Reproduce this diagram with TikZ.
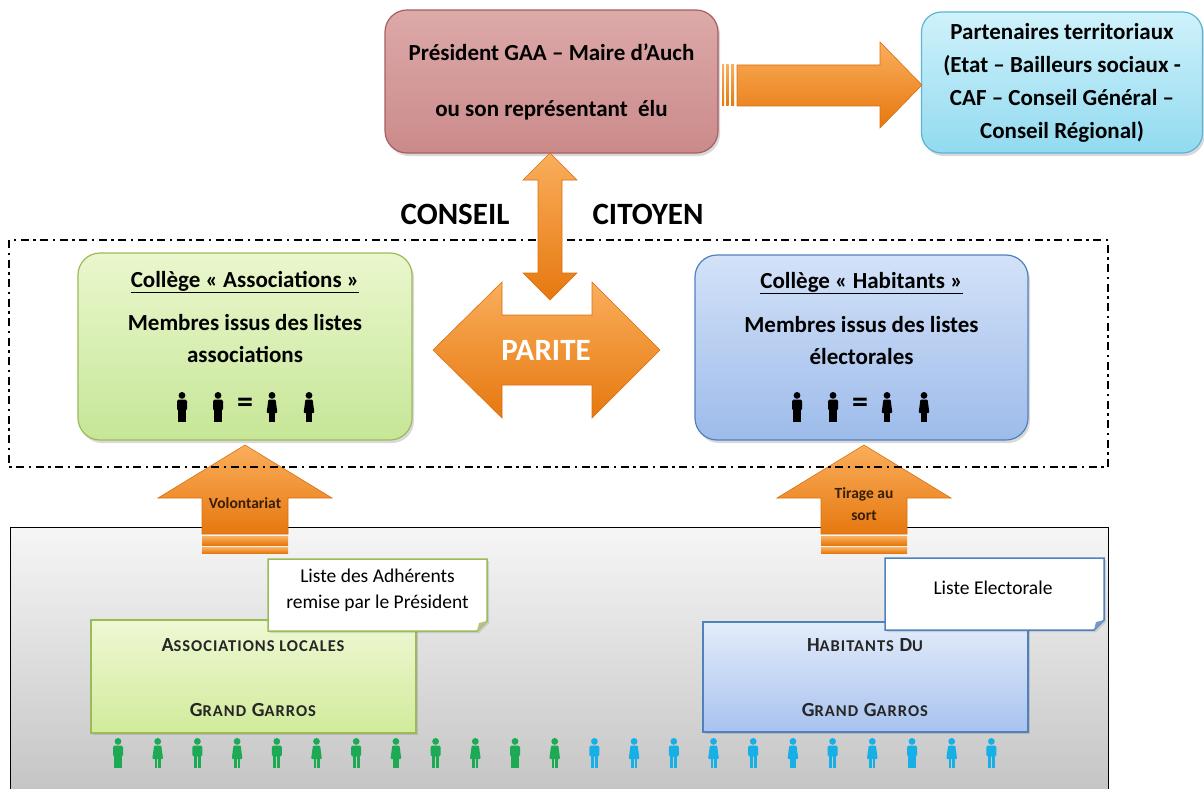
\documentclass[tikz,border=0pt]{standalone}
\usepackage{fontspec}
\setmainfont{Carlito}
\usetikzlibrary{shadows}

\definecolor{rosehaut}{HTML}{DDA9A9}
\definecolor{rosebas}{HTML}{CB8A8A}
\definecolor{rosebord}{HTML}{A85F5F}
\definecolor{cyanhaut}{HTML}{CFF2FB}
\definecolor{cyanbas}{HTML}{92DAF0}
\definecolor{cyanbord}{HTML}{5BB5D5}
\definecolor{vertclairhaut}{HTML}{EAF7CD}
\definecolor{vertclairbas}{HTML}{C6E697}
\definecolor{vertbord}{HTML}{9BBB59}
\definecolor{bleuclairhaut}{HTML}{D3E2F8}
\definecolor{bleuclairbas}{HTML}{9DBBEA}
\definecolor{bleubord}{HTML}{4F81BD}
\definecolor{vertboitehaut}{HTML}{EFF8D4}
\definecolor{vertboitebas}{HTML}{D1EB9B}
\definecolor{bleuboitehaut}{HTML}{E3ECFA}
\definecolor{bleuboitebas}{HTML}{A8C3EF}
\definecolor{grishaut}{HTML}{F6F6F6}
\definecolor{grisbas}{HTML}{C3C3C3}
\definecolor{orangehaut}{HTML}{FAAE5C}
\definecolor{orangebas}{HTML}{E6780F}
\definecolor{orangebord}{HTML}{D9700F}
\definecolor{brunfonce}{HTML}{3A1E08}
\definecolor{vertpeuple}{HTML}{1DAA55}
\definecolor{bleupeuple}{HTML}{17B0E6}

\newcommand{\pcap}[1]{{\fontsize{16.5}{16.5}\selectfont #1}}

\tikzset{
  boite/.style={rounded corners=22pt, inner sep=0pt, line width=1.2pt,
    drop shadow={opacity=0.3, shadow xshift=2pt, shadow yshift=-3pt}},
  cadre/.style={inner sep=0pt, line width=1.5pt,
    drop shadow={opacity=0.3, shadow xshift=2pt, shadow yshift=-2pt}},
  fleche/.style={draw=orangebord, line width=0.6pt, top color=orangehaut, bottom color=orangebas},
  petitcap/.style={font=\fontsize{20}{20}\selectfont\bfseries\addfontfeature{LetterSpace=6}, text=black!85},
  homme/.pic={
    \fill (0,3.4) circle (3.4);
    \fill[rounded corners=1.5pt] (-5,7.5) rectangle (5,18.5);
    \fill (-3.6,17) rectangle (-0.4,30);
    \fill (0.4,17) rectangle (3.6,30);
  },
  femme/.pic={
    \fill (0,3.4) circle (3.4);
    \fill[rounded corners=1pt] (-3.6,7.5) -- (3.6,7.5) -- (5.4,21) -- (-5.4,21) -- cycle;
    \fill (-3,20) rectangle (-0.4,30);
    \fill (0.4,20) rectangle (3,30);
  }
}

\begin{document}
\begin{tikzpicture}[x=1pt, y=-1pt, font=\fontsize{23}{28}\selectfont\bfseries]
	\useasboundingbox (0,0) rectangle (1204,789);

	% bande grise du bas
	\path[draw=black, line width=1pt, top color=grishaut, bottom color=grisbas] (10,527) rectangle (1108,800);

	\node[cadre, draw=vertbord, top color=vertboitehaut, bottom color=vertboitebas,
	      minimum width=325pt, minimum height=113pt] (assoc) at (253.5,676.5) {};
	\node[cadre, draw=bleubord, top color=bleuboitehaut, bottom color=bleuboitebas,
	      minimum width=325pt, minimum height=110pt] (hab) at (865.5,677) {};
	\node[petitcap] (assoc1) at (253,645) {A\pcap{SSOCIATIONS LOCALES}};
	\node[petitcap] (assoc2) at (253,710) {G\pcap{RAND} G\pcap{ARROS}};
	\node[petitcap] (hab1) at (865,645) {H\pcap{ABITANTS} D\pcap{U}};
	\node[petitcap] (hab2) at (865,710) {G\pcap{RAND} G\pcap{ARROS}};

	% notes
	\path[draw=vertbord, line width=1.5pt, fill=white, drop shadow={opacity=0.25, shadow xshift=2pt, shadow yshift=-2pt}]
		(268,559) -- (487,559) -- (487,621) -- (477,631) -- (268,631) -- cycle;
	\fill[vertbord!80] (487,621) -- (479,623) -- (477,631) -- cycle;
	\path[draw=bleubord, line width=1.5pt, fill=white, drop shadow={opacity=0.25, shadow xshift=2pt, shadow yshift=-2pt}]
		(885,558) -- (1104,558) -- (1104,620) -- (1094,630) -- (885,630) -- cycle;
	\fill[bleubord!80] (1104,620) -- (1096,622) -- (1094,630) -- cycle;
	\node[font=\fontsize{19.5}{26}\selectfont, align=center] (listeA) at (377.5,590) {Liste des Adhérents\\remise par le Président};
	\node[font=\fontsize{19.5}{26}\selectfont] (listeH) at (993,588) {Liste Electorale};

	% la population
	\foreach \i in {0,2,...,22} {
		\ifnum\i<12 \def\coul{vertpeuple}\else\def\coul{bleupeuple}\fi
		\pic[fill=\coul] at (118+39.7*\i,738) {homme};
	}
	\foreach \i in {1,3,...,21} {
		\ifnum\i<12 \def\coul{vertpeuple}\else\def\coul{bleupeuple}\fi
		\pic[fill=\coul] at (118+39.7*\i,738) {femme};
	}

	% fleches montantes
	\foreach \cx in {245,864} {
		\path[fleche] (\cx,445) -- (\cx+87,498) -- (\cx+43,498) -- (\cx+43,534)
			-- (\cx-43,534) -- (\cx-43,498) -- (\cx-87,498) -- cycle;
		\path[fleche, draw=none] (\cx-43,536.5) rectangle (\cx+43,545);
		\path[fleche, draw=none] (\cx-43,547.5) rectangle (\cx+43,553);
	}
	\node[font=\fontsize{15.5}{22}\selectfont\bfseries, text=brunfonce] (volontariat) at (245,503) {Volontariat};
	\node[font=\fontsize{15.5}{22}\selectfont\bfseries, text=brunfonce, align=center] (tirage) at (864,504) {Tirage au\\sort};

	% cadre du conseil
	\draw[line width=2.8pt, dash pattern=on 8pt off 4.5pt on 2.5pt off 4.5pt] (9,240) rectangle (1108,467);

	% colleges
	\node[boite, draw=vertbord, top color=vertclairhaut, bottom color=vertclairbas,
	      minimum width=334pt, minimum height=187pt] (collegeA) at (245,346.5) {};
	\node[boite, draw=bleubord, top color=bleuclairhaut, bottom color=bleuclairbas,
	      minimum width=333pt, minimum height=185pt] (collegeH) at (861.5,347.5) {};
	\node (titreA) at (245,282) {\underline{Collège « Associations »}};
	\node[align=center, font=\fontsize{23}{32}\selectfont\bfseries] (membresA) at (245,339) {Membres issus des listes\\associations};
	\node (titreH) at (861.5,283) {\underline{Collège « Habitants »}};
	\node[align=center, font=\fontsize{23}{32}\selectfont\bfseries] (membresH) at (861.5,341) {Membres issus des listes\\électorales};
	\foreach \ox/\px in {0/182,615/797} {
		\pic[fill=black] at (\px,392) {homme};
		\pic[fill=black] at (\px+36,392) {homme};
		\node[font=\fontsize{32}{32}\selectfont\bfseries] (egal\ox) at (\px+63,405) {=};
		\pic[fill=black] at (\px+90,392) {femme};
		\pic[fill=black] at (\px+127,392) {femme};
	}

	% haut
	\node[boite, draw=rosebord, top color=rosehaut, bottom color=rosebas,
	      minimum width=333pt, minimum height=143pt, align=center] (pres) at (551.5,81.5)
	      {Président GAA – Maire d’Auch\\[28pt]ou son représentant\ \ élu};
	\node[boite, rounded corners=20pt, draw=cyanbord, top color=cyanhaut, bottom color=cyanbas,
	      minimum width=281pt, minimum height=141pt, align=center,
	      font=\fontsize{23}{33}\selectfont\bfseries] (part) at (1062,82.5)
	      {Partenaires territoriaux\\(Etat – Bailleurs sociaux -\\CAF – Conseil Général –\\Conseil Régional)};

	\path[fleche] (737,65) -- (880,65) -- (880,42) -- (922,85) -- (880,128) -- (880,106) -- (737,106) -- cycle;
	\foreach \sx/\sw in {722/2, 726/2.5, 731/3}
		\path[fleche, draw=none] (\sx,65) rectangle (\sx+\sw,106);

	\path[fleche] (550,153) -- (577,180) -- (562,180) -- (562,273) -- (577,273) -- (550,300)
		-- (523,273) -- (538,273) -- (538,180) -- (523,180) -- cycle;

	\path[fleche] (433,350) -- (502,282) -- (502,315) -- (592,315) -- (592,282) -- (660,350)
		-- (592,418) -- (592,385) -- (502,385) -- (502,418) -- cycle;
	\node[text=white, font=\fontsize{31}{31}\selectfont\bfseries] (parite) at (546,350) {PARITE};

	\node[font=\fontsize{31}{31}\selectfont\bfseries] (conseil) at (455,214) {CONSEIL};
	\node[font=\fontsize{31}{31}\selectfont\bfseries] (citoyen) at (648,214) {CITOYEN};
\end{tikzpicture}
\end{document}
